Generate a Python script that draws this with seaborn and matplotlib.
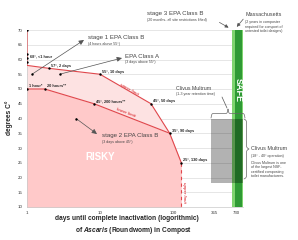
import numpy as np
import matplotlib
matplotlib.use("Agg")
import matplotlib.pyplot as plt
import seaborn as sns

# ---------------- data ----------------
upper_days = [1, 1, 2, 10, 50, 90, 130]
upper_temp = [70, 58, 57, 55, 45, 35, 25]
upper_labels = ["", "", "57°, 2 days", "55°, 10 days", "45°, 50 days", "35°, 90 days", "25°, 130 days"]
lower_days = [1, 1.75, 8.3, 90]
lower_temp = [50, 50, 45, 35]
lower_labels = ["1 hour*", "20 hours**", "45°, 200 hours**", ""]
axis_dot_days = [1, 1, 1]
axis_dot_temp = [62, 60.5, 59]
x_ticks = [1, 10, 100, 365, 730]
x_ticklabels = ["1", "10", "100", "365", "730"]
y_ticks = list(range(10, 75, 5))
safe_days = [650, 910]
safe_core_days = [705, 880]
clivus_days = [330, 910]
clivus_temp = [18, 40]
stage1_dot = (1.17, 55)
classA_dot = (2.8, 55)
stage2_dot = (4.7, 40)

W, H = 298, 240
sns.set_theme(style="white")
plt.rcParams['font.family'] = ['Liberation Sans', 'DejaVu Sans']
plt.rcParams['mathtext.fontset'] = 'custom'
plt.rcParams['mathtext.it'] = 'Liberation Sans:bold:italic'
plt.rcParams['mathtext.rm'] = 'Liberation Sans:bold'

fig = plt.figure(figsize=(W / 100, H / 100), dpi=100)
ax = fig.add_axes([27 / W, 1 - 207 / H, 216 / W, 177 / H])
ax.set_xscale("log")
ax.set_xlim(1, 910)
ax.set_ylim(10, 70)

RED = "#e0474c"
LIGHT = "#fde2e2"
DARK = "#ffc9c9"

def fp(px, py):
    return (px / W, 1 - py / H)

# grid
for t in y_ticks:
    ax.axhline(t, color="#dcdcdc", lw=0.5, zorder=0)

# fills
ax.fill_between(upper_days[1:], upper_temp[1:], 10, color=LIGHT, lw=0, zorder=1)
risky_x = lower_days + upper_days[-1:]
risky_y = lower_temp + upper_temp[-1:]
ax.fill_between(risky_x, risky_y, 10, color=DARK, lw=0, zorder=1.5)

# lines
sns.lineplot(x=upper_days, y=upper_temp, estimator=None, sort=False, color=RED, lw=0.8, ax=ax, zorder=3)
sns.lineplot(x=lower_days, y=lower_temp, estimator=None, sort=False, color=RED, lw=0.8, ax=ax, zorder=3)
ax.plot([upper_days[-1], upper_days[-1]], [upper_temp[-1], 10], color=RED, lw=0.8, ls=(0, (3, 3)), zorder=3)

# dots
sns.scatterplot(x=upper_days[2:] + lower_days[:3] + axis_dot_days + [upper_days[0]],
                y=upper_temp[2:] + lower_temp[:3] + axis_dot_temp + [upper_temp[0]],
                color="black", s=3, linewidth=0, ax=ax, zorder=5, legend=False)

for d, t, lab in zip(upper_days, upper_temp, upper_labels):
    if lab:
        ax.annotate(lab, (d, t), xytext=(1.5, 0.5), textcoords="offset points", fontsize=2.8,
                    fontweight="bold", va="bottom", ha="left", zorder=6)
for d, t, lab in zip(lower_days, lower_temp, lower_labels):
    if lab:
        ax.annotate(lab, (d, t), xytext=(1.5, 0.5), textcoords="offset points", fontsize=2.8,
                    fontweight="bold", va="bottom", ha="left", zorder=6)
fig.text(*fp(30, 56), "68°, <1 hour", fontsize=2.8, fontweight="bold", va="center")

# limit labels
fig.text(*fp(129, 89), "upper limit", fontsize=3, color=RED, style="italic", rotation=-30,
         ha="center", va="center", fontweight="bold")
fig.text(*fp(126, 113), "lower limit", fontsize=3, color=RED, style="italic", rotation=-21,
         ha="center", va="center", fontweight="bold")
fig.text(*fp(183.5, 192), "upper limit", fontsize=3, color=RED, style="italic", rotation=-90,
         ha="center", va="center", fontweight="bold")

# safe bar & clivus box
ax.axvspan(*safe_days, color="#7fd46f", lw=0, zorder=2)
ax.axvspan(*safe_core_days, color="#2f9a35", lw=0, zorder=2.1)
ax.fill_between(clivus_days, clivus_temp[0], clivus_temp[1], color="black", alpha=0.3, lw=0, zorder=2.2)

fig.text(*fp(238.5, 90), "SAFE", color="white", fontsize=6.5, fontweight="bold", rotation=-90,
         ha="center", va="center")
fig.text(*fp(100, 157), "RISKY", color="white", fontsize=7, fontweight="bold", ha="center", va="center")

# annotation arrows
def arrow(dot, px, py):
    ax.annotate("", xy=fp(px, py), xycoords="figure fraction", xytext=dot, textcoords="data",
                arrowprops=dict(arrowstyle="-|>,head_length=0.25,head_width=0.12", color="#555555", lw=0.5,
                                shrinkA=0, shrinkB=0), zorder=6)
    ax.scatter([dot[0]], [dot[1]], s=3, color="black", zorder=6, linewidth=0)

arrow(stage1_dot, 84, 40)
arrow(classA_dot, 122, 58)
arrow(stage2_dot, 97, 134)

TXT = "#444444"
fig.text(*fp(88, 38), "stage 1 EPA Class B", fontsize=4.4, color=TXT, va="center")
fig.text(*fp(88, 44), "(4 hours above 55°)", fontsize=2.6, color=TXT, va="center")
fig.text(*fp(125, 56), "EPA Class A", fontsize=4.4, color=TXT, va="center")
fig.text(*fp(125, 62), "(3 days above 55°)", fontsize=2.6, color=TXT, va="center")
fig.text(*fp(102, 136), "stage 2 EPA Class B", fontsize=4.4, color=TXT, va="center")
fig.text(*fp(102, 142), "(3 days above 45°)", fontsize=2.6, color=TXT, va="center")
fig.text(*fp(147, 13), "stage 3 EPA Class B", fontsize=4.4, color=TXT, va="center")
fig.text(*fp(147, 19.5), "(20 months- all site restrictions lifted)", fontsize=2.6, color=TXT, va="center")
fig.text(*fp(176, 88), "Clivus Multrum", fontsize=3.8, color=TXT, va="center")
fig.text(*fp(176, 94.5), "(1-3 year retention time)", fontsize=2.6, color=TXT, va="center")
fig.text(*fp(245, 15), "Massachusetts", fontsize=3.9, color=TXT, va="center")
fig.text(*fp(245, 20.5), "(2 years in composter\nrequired for compost of\nuntested toilet designs)",
         fontsize=2.6, color=TXT, va="top", linespacing=1.15)
fig.text(*fp(251, 149), "Clivus Multrum", fontsize=3.9, color=TXT, va="center")
fig.text(*fp(251, 154.5), "(18° - 40° operation)", fontsize=2.6, color=TXT, va="top")
fig.text(*fp(251, 161), "Clivus Multrum is one\nof the largest NSF-\ncertified composting\ntoilet manufacturers.",
         fontsize=2.6, color=TXT, va="top", linespacing=1.15)

for (x0, y0), (x1, y1) in [((217, 21), (231, 29)), ((245, 17), (235, 29))]:
    fig.add_artist(matplotlib.patches.FancyArrowPatch(fp(x0, y0), fp(x1, y1), transform=fig.transFigure,
                   arrowstyle="-|>,head_length=2,head_width=1", color="#555555", lw=0.5))
fig.add_artist(matplotlib.lines.Line2D([222 / W, 227 / W], [1 - 97 / H, 1 - 108 / H], color="#555555", lw=0.5))

# curly braces
def brace(p0, p1, depth, normal):
    p0 = np.array(p0, float); p1 = np.array(p1, float)
    L = np.linalg.norm(p1 - p0)
    d = (p1 - p0) / L
    u = np.linspace(0, L / 2, 150)
    b = 40.0 / L
    v = 1 / (1 + np.exp(-b * u * 2.2)) + 1 / (1 + np.exp(-b * (u - L / 2) * 2.2)) - 0.5
    v = v - v[0]
    v = v / v[-1]
    uu = np.concatenate([u, L - u[::-1]])
    vv = np.concatenate([v, v[::-1]])
    n = np.array(normal, float)
    pts = p0[None, :] + uu[:, None] * d[None, :] + (vv * depth)[:, None] * n[None, :]
    fig.add_artist(matplotlib.lines.Line2D(pts[:, 0] / W, 1 - pts[:, 1] / H, color="#666666", lw=0.5))

brace((211, 118), (245, 118), 9, (0, -1))
brace((244, 119), (244, 179), 5, (1, 0))

# axes styling
ax.set_xticks(x_ticks)
ax.set_xticklabels(x_ticklabels)
ax.set_yticks(y_ticks)
ax.tick_params(axis="both", labelsize=3.2, length=2, width=0.4, pad=1, color="#888888", labelcolor="#333333")
ax.tick_params(axis="x", which="minor", length=1.5, width=0.4, color="#888888")
ax.xaxis.set_minor_locator(matplotlib.ticker.LogLocator(base=10, subs=np.arange(2, 10)))
ax.xaxis.set_minor_formatter(matplotlib.ticker.NullFormatter())
for s in ["top", "right"]:
    ax.spines[s].set_visible(False)
for s in ["left", "bottom"]:
    ax.spines[s].set_color("#bbbbbb")
    ax.spines[s].set_linewidth(0.4)
ax.set_xlabel("")
ax.set_ylabel("")

fig.text(*fp(9, 118), "degrees C°", fontsize=4.8, fontweight="bold", rotation=90, ha="center", va="center")
fig.text(*fp(127, 219), "days until complete inactivation (logorithmic)", fontsize=4.8, fontweight="bold",
         ha="center", va="center")
fig.text(*fp(134, 231), r"of $\mathit{Ascaris}$ (Roundworm) in Compost", fontsize=4.8, fontweight="bold",
         ha="center", va="center")

fig.savefig("out.png", dpi=100)
